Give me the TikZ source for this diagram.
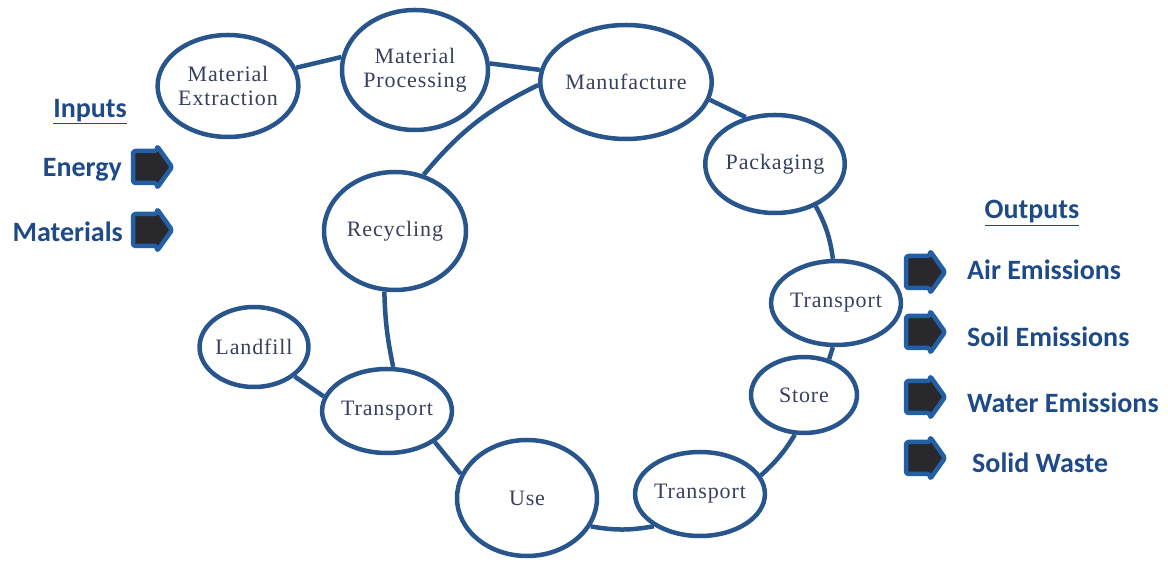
\documentclass[tikz,border=0pt]{standalone}
\usepackage{fontspec}
\setmainfont{Liberation Serif}
\newfontfamily\lblfont[LetterSpace=4]{Liberation Serif}
\newfontfamily\boldfont{Carlito}
\usetikzlibrary{shapes.geometric}
\definecolor{ellcol}{RGB}{40,85,140}
\definecolor{ltxt}{RGB}{55,65,95}
\definecolor{bcol}{RGB}{30,75,135}
\definecolor{arrb}{RGB}{35,95,165}
\definecolor{arrf}{RGB}{40,40,45}
\tikzset{
  stage/.style args={#1/#2}{ellipse, draw=ellcol, line width=4.5pt, fill=white,
    minimum width=#1pt, minimum height=#2pt, inner sep=0pt, align=center,
    text=ltxt, font=\lblfont\fontsize{22}{24}\selectfont},
  link/.style={draw=ellcol, line width=4.5pt},
  blkarrow/.style={draw=arrb, fill=arrf, line width=4.5pt, rounded corners=2.5pt, line join=round},
  blockarrow/.pic={\draw[blkarrow] (-19,-16) -- (5,-16) -- (5,-21) -- (20,0) -- (5,21) -- (5,16) -- (-19,16) -- cycle;},
  btxt/.style={text=bcol, font=\boldfont\bfseries\fontsize{28}{30}\selectfont, inner sep=0pt},
}
\begin{document}
\begin{tikzpicture}[x=1pt,y=1pt]
\useasboundingbox (0,0) rectangle (1168,564);
\node[stage=130/102] (ext) at (228,478) {Material\\Extraction};
\node[stage=144/120] (proc) at (415,494) {Material\\Processing};
\node[stage=162/114] (manu) at (626,482) {Manufacture};
\node[stage=124/98] (pack) at (775,400) {Packaging};
\node[stage=118/84] (tr1) at (836,261) {Transport};
\node[stage=106/76] (store) at (804,169) {Store};
\node[stage=120/84] (tr2) at (700,70) {Transport};
\node[stage=140/116] (use) at (527,66) {Use};
\node[stage=122/84] (tr3) at (387,153) {Transport};
\node[stage=108/80] (land) at (254,217) {Landfill};
\node[stage=142/118] (recy) at (395,333) {Recycling};

\draw[link] (ext.15) -- (proc.170);
\draw[link] (proc.5) -- (manu.172);
\draw[link] (manu.-12) -- (pack.122);
\draw[link] (pack.-46) to[bend left=10] (tr1.94);
\draw[link] (tr1.-94) -- (store.55);
\draw[link] (store.-103) to[bend left=8] (tr2.17);
\draw[link] (tr2.215) to[bend left=10] (use.-24);
\draw[link] (use.160) -- (tr3.-33);
\draw[link] (tr3.82) to[bend left=5] (recy.-100);
\draw[link] (tr3.167) -- (land.-36);
\draw[link] (recy.63) to[bend left=12] (manu.182);

% inputs
\node[btxt] (inhead) at (90,452) {\underline{Inputs}};
\node[btxt, anchor=east] (energy) at (122,394) {Energy};
\node[btxt, anchor=east] (mats) at (123,332) {Materials};
\coordinate (aen) at (152,397);
\coordinate (ama) at (152,334);
\pic at (aen) {blockarrow};
\pic at (ama) {blockarrow};

% outputs
\node[btxt] (outhead) at (1032,351) {\underline{Outputs}};
\coordinate (o1) at (925,292);
\coordinate (o2) at (925,232);
\coordinate (o3) at (925,167);
\coordinate (o4) at (925,106);
\pic at (o1) {blockarrow};
\pic at (o2) {blockarrow};
\pic at (o3) {blockarrow};
\pic at (o4) {blockarrow};
\node[btxt, anchor=west] (air) at (967,294) {Air Emissions};
\node[btxt, anchor=west] (soil) at (967,227) {Soil Emissions};
\node[btxt, anchor=west] (water) at (967,161) {Water Emissions};
\node[btxt, anchor=west] (solid) at (972,101) {Solid Waste};
\end{tikzpicture}
\end{document}
